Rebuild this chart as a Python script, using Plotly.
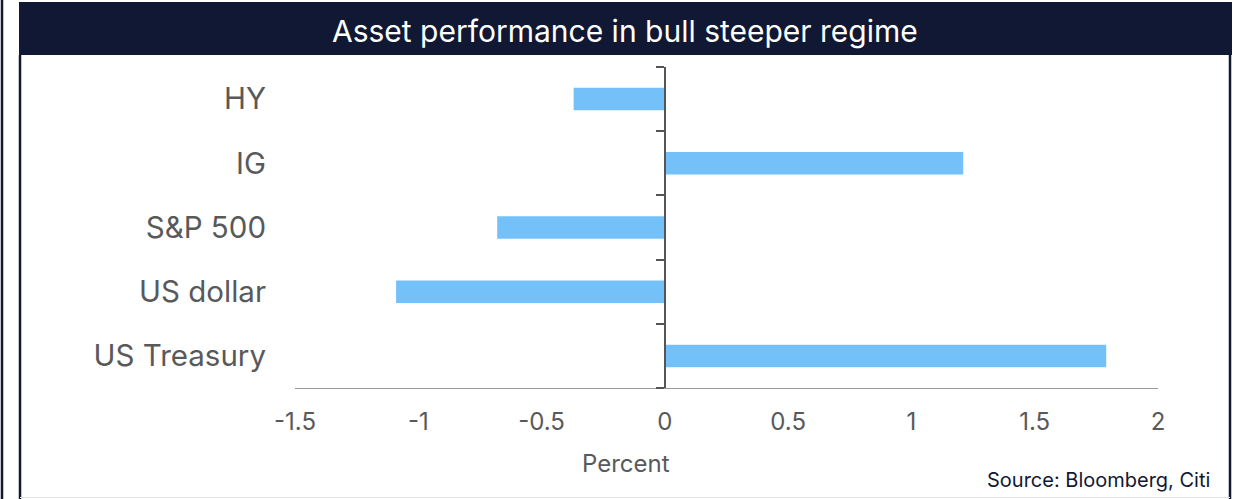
import plotly.graph_objects as go

# ---- data ----
categories = ["HY", "IG", "S&P 500", "US dollar", "US Treasury"]
values = [-0.37, 1.21, -0.68, -1.09, 1.79]
x_tickvals = [-1.5, -1, -0.5, 0, 0.5, 1, 1.5, 2]
x_ticktext = ["-1.5", "-1", "-0.5", "0", "0.5", "1", "1.5", "2"]
title_text = "Asset performance in bull steeper regime"
x_title = "Percent"
source_text = "Source: Bloomberg, Citi"

W, H = 1238, 499
FONT = "Inter"
NAVY = "#111833"
GREY = "#58595b"

def px(x):
    return x / W

def py(y):
    return 1 - y / H

fig = go.Figure()
fig.add_trace(go.Bar(
    x=values, y=categories, orientation="h",
    marker=dict(color="#74C1FA", line=dict(width=0)),
    width=0.35, hoverinfo="skip", showlegend=False,
))
# invisible helper trace so the zero-line axis (y2) is drawn
fig.add_trace(go.Scatter(
    x=[0, 0], y=[-0.5, 4.5], yaxis="y2", mode="lines",
    line=dict(width=0, color="rgba(0,0,0,0)"), hoverinfo="skip", showlegend=False,
))

plot_top, plot_bot = 67, 388
fig.update_layout(
    width=W, height=H,
    margin=dict(l=0, r=0, t=0, b=0, pad=0),
    paper_bgcolor="white", plot_bgcolor="white",
    font=dict(family=FONT, color=GREY),
    showlegend=False,
    xaxis=dict(
        domain=[px(295), px(1158)], automargin=False,
        range=[-1.5, 2], tickvals=x_tickvals, ticktext=x_ticktext,
        showgrid=False, zeroline=False,
        showline=True, linecolor="#9a9a9a", linewidth=1,
        ticks="", tickfont=dict(size=24, color=GREY, family=FONT),
        ticklabelstandoff=12,
        anchor="y",
    ),
    yaxis=dict(
        domain=[py(plot_bot), py(plot_top)], automargin=False,
        type="category", categoryorder="array", categoryarray=categories,
        autorange="reversed",
        showgrid=False, zeroline=False, showline=False, ticks="",
        tickfont=dict(size=29.5, color=GREY, family=FONT),
        ticklabelstandoff=28,
        anchor="x",
    ),
    yaxis2=dict(
        domain=[py(plot_bot), py(plot_top)], automargin=False,
        overlaying="y", anchor="free", position=px(665),
        range=[4.5, -0.5], tickvals=[-0.5, 0.5, 1.5, 2.5, 3.5, 4.5],
        showticklabels=False, ticks="outside", ticklen=8, tickwidth=2,
        tickcolor="#555555", showline=True, linecolor="#555555", linewidth=2,
        showgrid=False, zeroline=False,
    ),
)

shapes = [
    # title bar
    dict(type="rect", xref="paper", yref="paper", x0=px(19), x1=px(1232),
         y0=py(55), y1=py(2), fillcolor=NAVY, line=dict(width=0), layer="below"),
    # frame lines
    dict(type="line", xref="paper", yref="paper", x0=px(20), x1=px(20),
         y0=py(55), y1=py(499), line=dict(color=NAVY, width=2.5)),
    dict(type="line", xref="paper", yref="paper", x0=px(1230), x1=px(1230),
         y0=py(55), y1=py(499), line=dict(color=NAVY, width=2.5)),
    dict(type="line", xref="paper", yref="paper", x0=px(2), x1=px(2),
         y0=py(0), y1=py(499), line=dict(color=NAVY, width=2.5)),
    dict(type="line", xref="paper", yref="paper", x0=px(20), x1=px(1230),
         y0=py(497.5), y1=py(497.5), line=dict(color="#e4e4e4", width=1)),
]
fig.update_layout(shapes=shapes)

fig.add_annotation(text=title_text, xref="paper", yref="paper",
                   x=px(625), y=py(31), xanchor="center", yanchor="middle",
                   showarrow=False, font=dict(size=30, color="white", family=FONT))
fig.add_annotation(text=x_title, xref="paper", yref="paper",
                   x=px(626), y=py(463), xanchor="center", yanchor="middle",
                   showarrow=False, font=dict(size=24, color=GREY, family=FONT))
fig.add_annotation(text=source_text, xref="paper", yref="paper",
                   x=px(1212), y=py(480), xanchor="right", yanchor="middle",
                   showarrow=False, font=dict(size=20, color=NAVY, family=FONT))

fig.write_html("out.html")
